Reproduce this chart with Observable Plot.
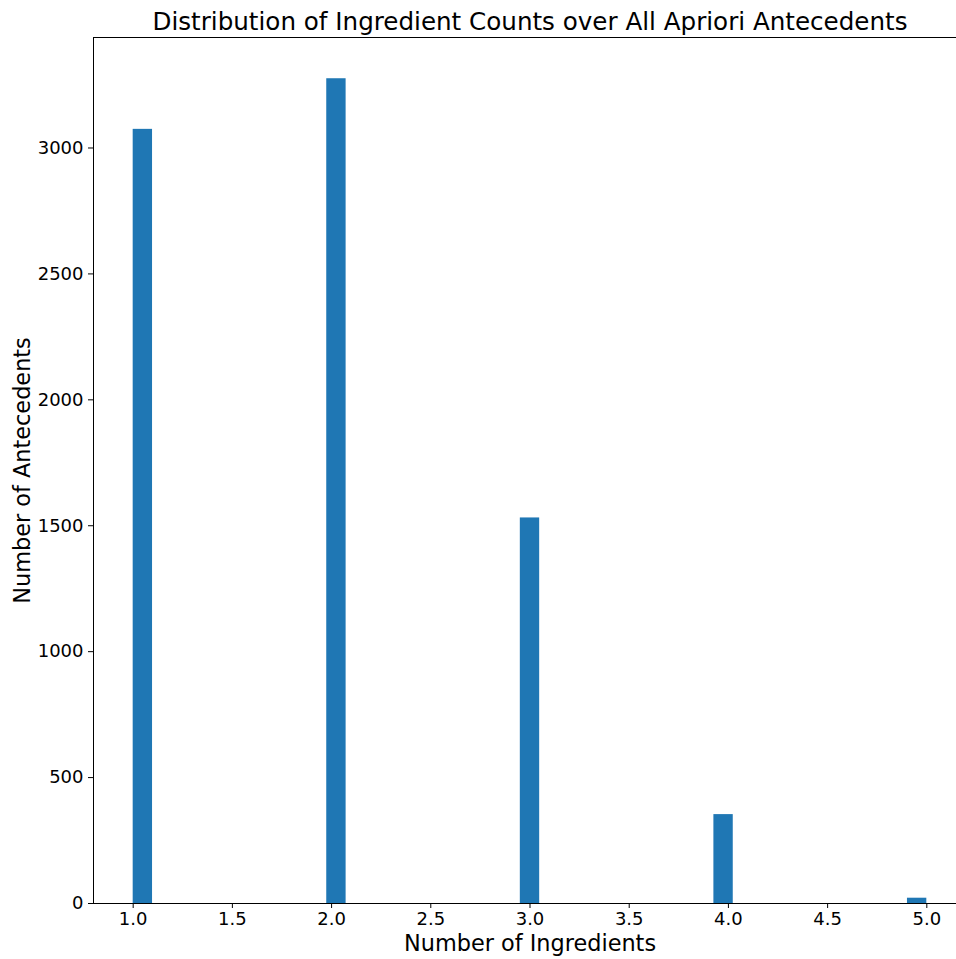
<!DOCTYPE html>
<html>
<head>
<meta charset="utf-8">
<script src="https://cdn.jsdelivr.net/npm/d3@7"></script>
<script src="https://cdn.jsdelivr.net/npm/@observablehq/plot@0.6"></script>
<style>
  html, body { margin: 0; padding: 0; background: white; overflow: hidden; }
</style>
</head>
<body>
<div id="chart"></div>
<script>
// Data (41 bins over [1, 5])
const ingredientCounts = [1, 2, 3, 4, 5];
const antecedentCounts = [3074, 3275, 1531, 353, 21];
const binCount = 41;
const binRange = [1, 5];
const xTicks = [1.0, 1.5, 2.0, 2.5, 3.0, 3.5, 4.0, 4.5, 5.0];
const yTicks = [0, 500, 1000, 1500, 2000, 2500, 3000];
const titleText = "Distribution of Ingredient Counts over All Apriori Antecedents";
const xLabel = "Number of Ingredients";
const yLabel = "Number of Antecedents";

const binWidth = (binRange[1] - binRange[0]) / binCount;
const bars = ingredientCounts.map((v, i) => {
  const b = Math.min(binCount - 1, Math.floor((v - binRange[0]) / binWidth));
  return {x1: binRange[0] + b * binWidth, x2: binRange[0] + (b + 1) * binWidth, y: antecedentCounts[i]};
});
const maxY = d3.max(antecedentCounts);
const span = binRange[1] - binRange[0];

const chart = Plot.plot({
  width: 956,
  height: 959,
  marginLeft: 93,
  marginRight: -10,
  marginTop: 37,
  marginBottom: 56,
  style: {fontFamily: "DejaVu Sans, sans-serif", fontSize: "18px", color: "black", background: "white"},
  x: {domain: [binRange[0] - 0.05 * span, binRange[1] + 0.05 * span]},
  y: {domain: [0, maxY * 1.05]},
  marks: [
    Plot.rectY(bars, {x1: "x1", x2: "x2", y: "y", fill: "#1f77b4", inset: 0}),
    Plot.axisX({ticks: xTicks, tickFormat: d => d.toFixed(1), tickSize: 5, tickPadding: 4, label: null, fontSize: 18}),
    Plot.axisY({ticks: yTicks, tickFormat: d => String(d), tickSize: 5, tickPadding: 5, label: null, fontSize: 18}),
    Plot.frame({stroke: "black", strokeWidth: 1}),
    Plot.text([titleText], {frameAnchor: "top", dy: -15, lineAnchor: "middle", fontSize: 24.6, fill: "black"}),
    Plot.text([xLabel], {frameAnchor: "bottom", dy: 40, lineAnchor: "middle", fontSize: 22.4, fill: "black"}),
    Plot.text([yLabel], {frameAnchor: "left", dx: -71, rotate: -90, textAnchor: "middle", lineAnchor: "middle", fontSize: 22.4, fill: "black"})
  ]
});
document.getElementById("chart").appendChild(chart);
</script>
</body>
</html>
